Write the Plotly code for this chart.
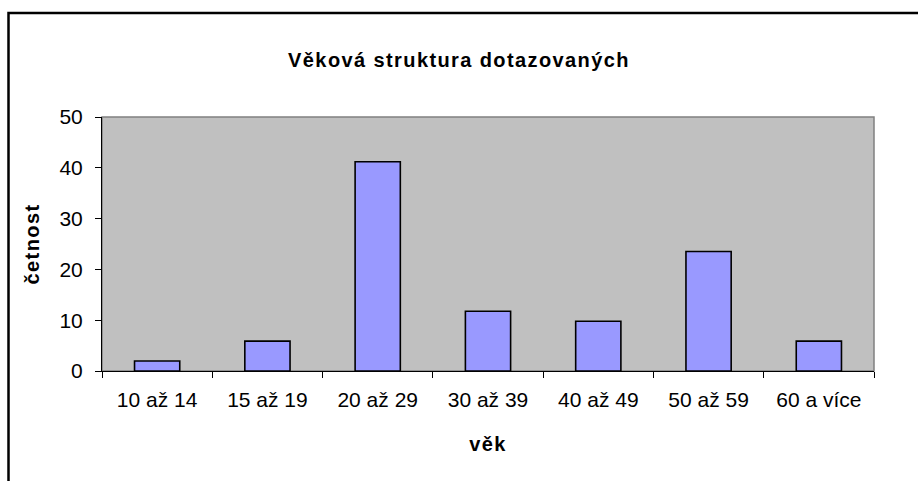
import plotly.graph_objects as go

categories = ["10 až 14", "15 až 19", "20 až 29", "30 až 39", "40 až 49", "50 až 59", "60 a více"]
values = [1.96, 5.88, 41.18, 11.76, 9.80, 23.53, 5.88]
y_ticks = [0, 10, 20, 30, 40, 50]

W, H = 918, 481
L, R, T, B = 102, 44, 117, 110
pw, ph = W - L - R, H - T - B

def px_x(p):
    return (p - L) / pw

def px_y(p):
    return (H - B - p) / ph

FONT = "Liberation Sans, Arial, sans-serif"

fig = go.Figure(go.Bar(
    x=categories, y=values,
    marker=dict(color="#9999FF", line=dict(color="black", width=1.6)),
    width=0.41,
))

fig.update_layout(
    width=W, height=H,
    margin=dict(l=L, r=R, t=T, b=B, autoexpand=False),
    paper_bgcolor="white", plot_bgcolor="#C0C0C0",
    showlegend=False,
    font=dict(family=FONT, size=20, color="black"),
    title=dict(text="<b>Věková struktura dotazovaných</b>", x=0.5, xref="container",
               xanchor="center", y=1 - 60 / H, yref="container", yanchor="middle",
               font=dict(family=FONT, size=20, color="black")),
    bargap=0.59,
)

fig.update_xaxes(
    type="category", tickson="boundaries", ticks="outside", ticklen=6, tickwidth=1,
    tickcolor="black", showline=True, linecolor="black", linewidth=1,
    showgrid=False, tickfont=dict(family=FONT, size=21), ticklabelstandoff=10,
    title=dict(text="<b>věk</b>", standoff=26, font=dict(family=FONT, size=20)),
)
fig.update_yaxes(
    range=[0, 50], tickvals=y_ticks, ticks="outside", ticklen=6, tickwidth=1,
    tickcolor="black", showline=True, linecolor="black", linewidth=1,
    showgrid=False, zeroline=False, tickfont=dict(family=FONT, size=21),
    ticklabelstandoff=8,
    title=dict(text="<b>četnost</b>", standoff=14, font=dict(family=FONT, size=20)),
)

# plot area border (grey) and outer chart frame (black)
fig.add_shape(type="rect", xref="paper", yref="paper", x0=0, x1=1, y0=0, y1=1,
              line=dict(color="#808080", width=1.5), layer="below")
fig.add_shape(type="rect", xref="paper", yref="paper",
              x0=px_x(8.5), x1=px_x(935), y0=px_y(500), y1=px_y(13),
              line=dict(color="black", width=2.5), layer="above")

post = """
document.body.style.margin = '0';
document.querySelectorAll('.gtitle, .xtitle, .ytitle').forEach(function(e){
  e.setAttribute('letter-spacing', '1.4');
});
"""
fig.write_html("out.html", post_script=post, config={"displayModeBar": False})
